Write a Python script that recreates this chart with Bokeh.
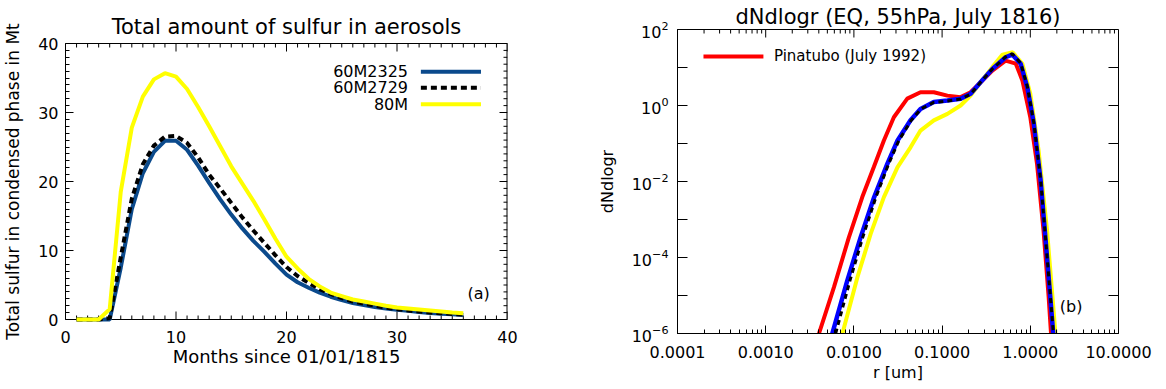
import numpy as np
from bokeh.plotting import figure
from bokeh.models import SingleIntervalTicker, FixedTicker, CustomJSTickFormatter, Range1d
from bokeh.layouts import row
from bokeh.embed import file_html
from bokeh.resources import INLINE
from bokeh.core.properties import value

# ---------------- data: panel (a) ----------------
months = list(range(1, 37))
sulfur_60M2325 = [0, 0, 0, 0, 7.5, 16.0, 21.2, 24.3, 25.9, 25.9, 24.6, 22.3, 19.8, 17.4,
                  15.2, 13.2, 11.4, 9.8, 8.1, 6.5, 5.4, 4.6, 3.9, 3.3, 2.8, 2.4, 2.1, 1.8,
                  1.6, 1.4, 1.25, 1.1, 0.95, 0.85, 0.75, 0.65]
sulfur_60M2729 = [0, 0, 0, 0.2, 9.0, 17.5, 22.5, 25.2, 26.5, 26.6, 25.6, 23.5, 21.0, 19.0,
                  16.9, 14.8, 12.9, 11.1, 9.3, 7.6, 6.3, 5.3, 4.4, 3.7, 3.1, 2.6, 2.3, 2.0,
                  1.7, 1.5, 1.3, 1.15, 1.0, 0.9, 0.8, 0.7]
sulfur_80M = [0, 0, 0, 1.5, 18.5, 27.8, 32.3, 34.8, 35.7, 35.2, 33.4, 30.8, 28.0, 25.1,
              22.2, 19.7, 17.2, 14.5, 11.7, 9.1, 7.4, 5.9, 4.8, 3.9, 3.4, 2.9, 2.6, 2.3,
              2.0, 1.75, 1.6, 1.45, 1.3, 1.15, 1.0, 0.9]
labels_a = ["60M2325", "60M2729", "80M"]

# ---------------- data: panel (b) (log10 r [um], log10 dNdlogr) ----------------
pinatubo_log_r = [-2.396, -2.226, -2.057, -1.905, -1.774, -1.66, -1.547, -1.395, -1.245,
                  -1.094, -0.94, -0.79, -0.677, -0.564, -0.43, -0.28, -0.164, -0.09, 0.0,
                  0.076, 0.15, 0.208, 0.235]
pinatubo_log_n = [-6.0, -4.78, -3.47, -2.41, -1.62, -0.92, -0.31, 0.18, 0.35,
                  0.35, 0.26, 0.22, 0.35, 0.61, 0.92, 1.18, 1.10, 0.66, -0.31,
                  -1.53, -3.29, -5.04, -6.0]
m2325_log_r = [-2.245, -2.075, -1.924, -1.77, -1.62, -1.505, -1.358, -1.245, -1.094, -0.94,
               -0.79, -0.677, -0.564, -0.43, -0.28, -0.205, -0.11, -0.034, 0.04, 0.117,
               0.19, 0.26]
m2325_log_n = [-6.0, -4.61, -3.47, -2.41, -1.53, -0.92, -0.39, -0.09, 0.09, 0.13,
               0.18, 0.31, 0.61, 0.96, 1.27, 1.34, 1.10, 0.48, -0.48, -1.97,
               -3.99, -6.0]
m2729_log_r = [-2.207, -2.045, -1.90, -1.75, -1.605, -1.49, -1.35, -1.24, -1.094, -0.94,
               -0.79, -0.677, -0.564, -0.43, -0.28, -0.205, -0.11, -0.034, 0.04, 0.117,
               0.19, 0.262]
m2729_log_n = [-6.0, -4.61, -3.47, -2.41, -1.53, -0.92, -0.39, -0.09, 0.08, 0.12,
               0.17, 0.30, 0.61, 0.96, 1.28, 1.36, 1.12, 0.50, -0.46, -1.95,
               -3.97, -6.0]
m80_log_r = [-2.13, -1.96, -1.81, -1.66, -1.505, -1.358, -1.245, -1.094, -0.94, -0.79,
             -0.677, -0.564, -0.43, -0.315, -0.2, -0.09, 0.0, 0.094, 0.19, 0.285]
m80_log_n = [-6.0, -4.52, -3.38, -2.41, -1.62, -1.1, -0.66, -0.39, -0.22, 0.0,
             0.26, 0.61, 1.01, 1.34, 1.40, 1.10, 0.31, -1.18, -3.29, -6.0]
label_b = "Pinatubo (July 1992)"
x_ticks_b = [1e-4, 1e-3, 1e-2, 1e-1, 1, 10]
y_ticks_b = [1e-6, 1e-4, 1e-2, 1, 1e2]

FONT = "DejaVu Sans"
NAVY = "#0b4a8c"


def style_axis(ax, tick_in=8, minor_in=4):
    ax.major_tick_in = tick_in
    ax.major_tick_out = 0
    ax.minor_tick_in = minor_in
    ax.minor_tick_out = 0
    ax.axis_line_color = "black"
    ax.major_tick_line_color = "black"
    ax.minor_tick_line_color = "black"
    ax.major_label_text_font = FONT
    ax.major_label_text_color = "black"
    ax.major_label_text_font_size = "16px"
    ax.axis_label_text_font = FONT
    ax.axis_label_text_font_style = "normal"
    ax.axis_label_text_color = "black"
    ax.axis_label_text_font_size = "16px"


def ticks_from_edge(p, pos, edge, length, direction):
    """Inward ticks along a box edge drawn as short screen-length rays."""
    n = len(pos)
    if direction == "down":
        p.ray(x=pos, y=[edge] * n, length=length, length_units="screen",
              angle=-np.pi / 2, line_color="black", line_width=1)
    elif direction == "up":
        p.ray(x=pos, y=[edge] * n, length=length, length_units="screen",
              angle=np.pi / 2, line_color="black", line_width=1)
    else:
        p.ray(x=[edge] * n, y=pos, length=length, length_units="screen",
              angle=np.pi, line_color="black", line_width=1)


# ---------------- panel (a) ----------------
# Plot frames of a row share top/bottom, so panel (a) uses the frame of panel (b)
# and draws its smaller box (y = 0..40) inside it.
pad = 40 * 14.0 / 276.0
p1 = figure(width=583, height=389, x_range=Range1d(0, 40), y_range=Range1d(-pad, 40 + pad),
            output_backend="svg", toolbar_location=None,
            min_border_left=65, min_border_right=76, min_border_top=29, min_border_bottom=56)
p1.xgrid.visible = False
p1.ygrid.visible = False
p1.outline_line_color = None
p1.title.text = "Total amount of sulfur in aerosols"
p1.title.align = "center"
p1.title.text_font = FONT
p1.title.text_font_size = "21px"
p1.title.text_font_style = "normal"
p1.title.text_color = "black"
try:
    p1.title.standoff = -18
except Exception:
    p1.title.standoff = 0

xa = p1.xaxis[0]
xa.ticker = SingleIntervalTicker(interval=10, num_minor_ticks=10)
xa.axis_label = "Months since 01/01/1815"
style_axis(xa, tick_in=0, minor_in=0)
xa.axis_line_color = None
xa.axis_label_text_font_size = "18px"
try:
    xa.major_label_standoff = -3
except Exception:
    xa.major_label_standoff = 0
xa.axis_label_standoff = 0
ya = p1.yaxis[0]
ya.ticker = SingleIntervalTicker(interval=10, num_minor_ticks=10)
ya.axis_label = "Total sulfur in condensed phase in Mt"
ya.bounds = (0, 40)
style_axis(ya)
ya.axis_label_text_font_size = "17px"
ya.major_label_standoff = 7
ya.axis_label_standoff = 12

# box edges (left edge is the y axis line)
p1.line([0, 40], [0, 0], line_color="black", line_width=1)
p1.line([0, 40], [40, 40], line_color="black", line_width=1)
p1.line([40, 40], [0, 40], line_color="black", line_width=2)

major_a = list(range(0, 41, 10))
minor_a = [v for v in range(0, 41) if v % 10]
ticks_from_edge(p1, major_a, 0, 8, "up")
ticks_from_edge(p1, minor_a, 0, 4, "up")
ticks_from_edge(p1, major_a, 40, 8, "down")
ticks_from_edge(p1, minor_a, 40, 4, "down")
ticks_from_edge(p1, major_a, 40, 8, "left")
ticks_from_edge(p1, minor_a, 40, 4, "left")

p1.line(months, sulfur_60M2325, line_color=NAVY, line_width=4)
p1.line(months, sulfur_60M2729, line_color="black", line_width=4, line_dash="6 4")
p1.line(months, sulfur_80M, line_color="#ffff00", line_width=4)

# legend (text to the left of the sample line, IDL style)
leg_y = [35.9, 33.6, 31.2]
leg_styles = [dict(line_color=NAVY, line_width=4),
              dict(line_color="black", line_width=4, line_dash="6 4"),
              dict(line_color="#ffff00", line_width=4)]
for lab, ly, st in zip(labels_a, leg_y, leg_styles):
    p1.line([32.16, 37.6], [ly, ly], **st)
    p1.text(x=[31.0], y=[ly], text=[lab], text_align="right", text_baseline="middle",
            text_font=value(FONT), text_font_size="16px", text_color="black")
p1.text(x=[38.4], y=[3.8], text=["(a)"], text_align="right", text_baseline="middle",
        text_font=value(FONT), text_font_size="16px", text_color="black")

# ---------------- panel (b) ----------------
p2 = figure(width=583, height=389, x_axis_type="log", y_axis_type="log",
            x_range=Range1d(1e-4, 10), y_range=Range1d(1e-6, 1e2),
            output_backend="svg", toolbar_location=None,
            min_border_left=94, min_border_right=48, min_border_top=29, min_border_bottom=56)
p2.xgrid.visible = False
p2.ygrid.visible = False
p2.outline_line_color = "black"
p2.title.text = "dNdlogr (EQ, 55hPa, July 1816)"
p2.title.align = "center"
p2.title.text_font = FONT
p2.title.text_font_size = "21px"
p2.title.text_font_style = "normal"
p2.title.text_color = "black"
p2.title.standoff = 1

x_minor = [m * d for d in [1e-4, 1e-3, 1e-2, 1e-1, 1] for m in range(2, 10)]
y_minor = [1e-5, 1e-3, 1e-1, 1e1]

xa2 = p2.xaxis[0]
xa2.ticker = FixedTicker(ticks=x_ticks_b, minor_ticks=x_minor)
xa2.formatter = CustomJSTickFormatter(code="return tick.toFixed(4)")
xa2.axis_label = "r [um]"
style_axis(xa2)
xa2.major_label_standoff = 12
xa2.axis_label_standoff = 2
ya2 = p2.yaxis[0]
ya2.ticker = FixedTicker(ticks=y_ticks_b, minor_ticks=y_minor)
ya2.axis_label = "dNdlogr"
style_axis(ya2, tick_in=10, minor_in=10)
ya2.major_label_standoff = 9
ya2.axis_label_standoff = 12

ticks_from_edge(p2, x_ticks_b, 1e2, 8, "down")
ticks_from_edge(p2, x_minor, 1e2, 4, "down")
ticks_from_edge(p2, y_ticks_b + y_minor, 10, 10, "left")

p2.line(np.power(10.0, m80_log_r), np.power(10.0, m80_log_n), line_color="#ffff00", line_width=4)
p2.line(np.power(10.0, pinatubo_log_r), np.power(10.0, pinatubo_log_n), line_color="#ff0000", line_width=4)
p2.line(np.power(10.0, m2325_log_r), np.power(10.0, m2325_log_n), line_color="#0000ff", line_width=4.5)
p2.line(np.power(10.0, m2729_log_r), np.power(10.0, m2729_log_n), line_color="black", line_width=3,
        line_dash="5 4")

p2.line([1.97e-4, 9.42e-4], [19.5, 19.5], line_color="#ff0000", line_width=4)
p2.text(x=[1.24e-3], y=[19.5], text=[label_b], text_align="left", text_baseline="middle",
        text_font=value(FONT), text_font_size="15px", text_color="black")
p2.text(x=[3.9], y=[5.1e-6], text=["(b)"], text_align="right", text_baseline="middle",
        text_font=value(FONT), text_font_size="16px", text_color="black")

layout = row(p1, p2)
open("out.html", "w").write(file_html(layout, INLINE))
